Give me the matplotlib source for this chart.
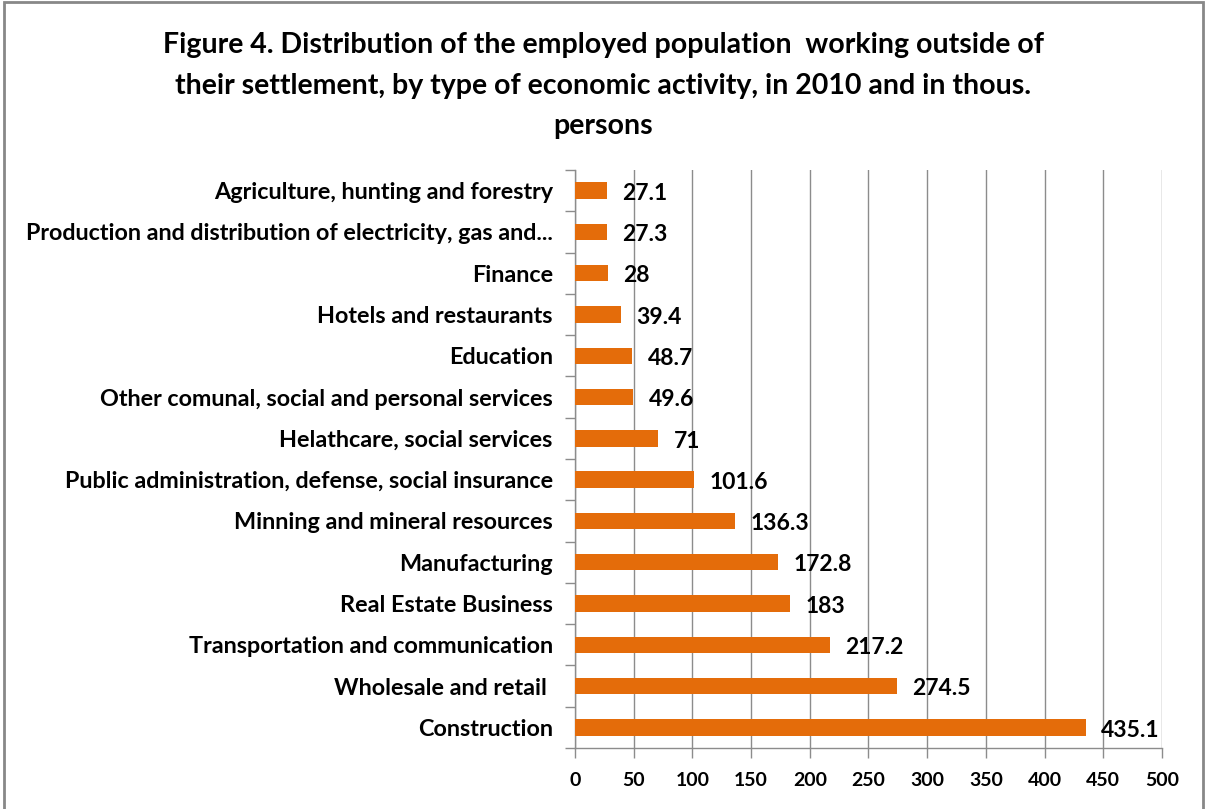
import matplotlib.pyplot as plt
import matplotlib.patches as mpatches
import numpy as np

# ---- DATA ----
categories = [
    "Agriculture, hunting and forestry",
    "Production and distribution of electricity, gas and...",
    "Finance",
    "Hotels and restaurants",
    "Education",
    "Other comunal, social and personal services",
    "Helathcare, social services",
    "Public administration, defense, social insurance",
    "Minning and mineral resources",
    "Manufacturing",
    "Real Estate Business",
    "Transportation and communication",
    "Wholesale and retail ",
    "Construction",
]
values = [27.1, 27.3, 28, 39.4, 48.7, 49.6, 71, 101.6, 136.3, 172.8, 183, 217.2, 274.5, 435.1]
value_labels = ["27.1", "27.3", "28", "39.4", "48.7", "49.6", "71", "101.6",
                "136.3", "172.8", "183", "217.2", "274.5", "435.1"]
x_ticks = [0, 50, 100, 150, 200, 250, 300, 350, 400, 450, 500]

title = ("Figure 4. Distribution of the employed population  working outside of\n"
         "their settlement, by type of economic activity, in 2010 and in thous.\n"
         "persons")

# ---- STYLE ----
plt.rcParams['font.family'] = ['Lato', 'DejaVu Sans']
bar_color = '#E46C0A'
grid_color = '#8C8C8C'

fig = plt.figure(figsize=(12.07, 8.09), dpi=100)
ax = fig.add_axes([0.4764, 0.0754, 0.4863, 0.7145])

y = np.arange(len(categories))
ax.barh(y, values, height=0.4, color=bar_color, zorder=3)

for yi, v, lab in zip(y, values, value_labels):
    ax.annotate(lab, (v, yi), xytext=(11, -2), textcoords='offset points',
                va='center', ha='left', fontsize=16.5, fontweight='bold', color='black')

ax.set_ylim(len(categories) - 0.5, -0.5)
ax.set_xlim(0, 500)
ax.set_xticks(x_ticks)
ax.set_xticklabels([str(t) for t in x_ticks], fontsize=14, fontweight='bold')
ax.set_yticks(y)
ax.set_yticklabels(categories, fontsize=16.8, fontweight='bold')
ax.tick_params(axis='y', length=0, pad=16)
ax.set_yticks(np.arange(-0.5, len(categories), 1), minor=True)
ax.tick_params(axis='y', which='minor', length=7, color=grid_color, width=1)
ax.tick_params(axis='x', length=7, color=grid_color, width=1, pad=10)

ax.grid(axis='x', color=grid_color, linewidth=1, zorder=0)
for s in ['top', 'right']:
    ax.spines[s].set_visible(False)
for s in ['left', 'bottom']:
    ax.spines[s].set_color(grid_color)
    ax.spines[s].set_linewidth(1)

fig.text(0.5, 0.96, title, ha='center', va='top', fontsize=20.5, fontweight='bold',
         linespacing=1.68)

# outer chart border
fig.patches.append(mpatches.Rectangle((0.003, -0.01), 0.994, 1.007, transform=fig.transFigure,
                                      fill=False, edgecolor='#888888', linewidth=2))

fig.savefig('out.png', dpi=100)
